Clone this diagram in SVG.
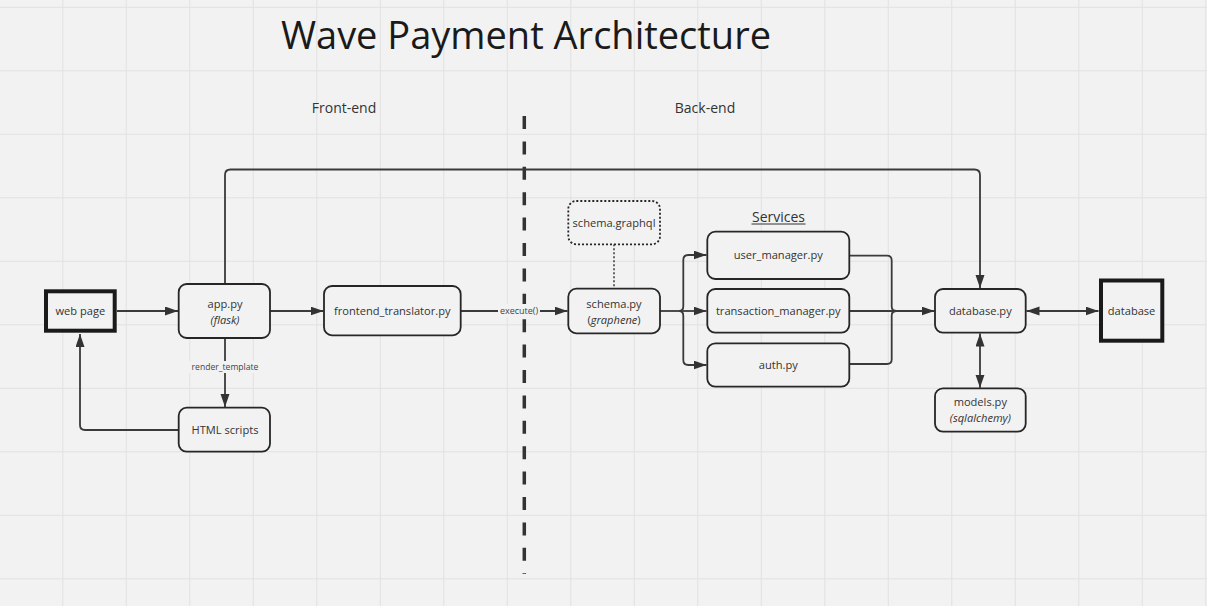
<svg xmlns="http://www.w3.org/2000/svg" width="1207" height="606" viewBox="0 0 1207 606">
<style>
text{font-family:"Open Sans","Noto Sans","Liberation Sans",sans-serif;fill:#333}
.node{fill:#f2f2f2;stroke:#262626;stroke-width:1.8}
.thick{fill:#f2f2f2;stroke:#1a1a1a;stroke-width:4}
.dotted{fill:#f2f2f2;stroke:#262626;stroke-width:1.8;stroke-dasharray:2 2}
.lbl{font-size:11.1px;text-anchor:middle}
.it{font-style:italic}
.conn{fill:none;stroke:#3a3a3a;stroke-width:1.8}
.small{font-size:8.6px;text-anchor:middle;fill:#444}
.grid{fill:none;stroke:#e1e1e1;stroke-width:1}
</style>
<defs>
<marker id="arr" markerUnits="userSpaceOnUse" markerWidth="14" markerHeight="10" refX="13" refY="4.5" orient="auto-start-reverse">
<path d="M0,0 L13,4.5 L0,9 z" fill="#333"/>
</marker>
</defs>
<rect x="0" y="0" width="1207" height="606" fill="#f2f2f2"/>
<path class="grid" d="M62.8,0V606M126.3,0V606M189.8,0V606M253.3,0V606M316.8,0V606M380.3,0V606M443.8,0V606M507.3,0V606M570.8,0V606M634.3,0V606M697.8,0V606M761.3,0V606M824.8,0V606M888.3,0V606M951.8,0V606M1015.3,0V606M1078.8,0V606M1142.3,0V606M1205.8,0V606M0,7.3H1207M0,70.8H1207M0,134.3H1207M0,197.8H1207M0,261.3H1207M0,324.8H1207M0,388.3H1207M0,451.8H1207M0,515.3H1207M0,578.8H1207"/>

<g id="title">
<text x="526" y="48.5" font-size="38" text-anchor="middle" style="fill:#1a1a1a">Wave Payment Architecture</text>
</g>
<g id="section-labels">
<text x="344" y="112.5" font-size="14" text-anchor="middle">Front-end</text>
<text x="705" y="112.5" font-size="14" text-anchor="middle">Back-end</text>
</g>

<g id="divider">
<line x1="524.3" y1="116" x2="524.3" y2="574" stroke="#333" stroke-width="3.5" stroke-dasharray="13 12.4"/>
</g>

<g id="connectors">
<path class="conn" d="M117,311H178" marker-end="url(#arr)"/>
<path class="conn" d="M270,311H323.5" marker-end="url(#arr)"/>
<path class="conn" d="M225,338V407" marker-end="url(#arr)"/>
<rect x="186" y="361" width="78" height="12" fill="#f2f2f2"/>
<text class="small" x="225" y="370.3">render_template</text>
<path class="conn" d="M178.7,430H85Q80,430 80,425V334" marker-end="url(#arr)"/>
<path class="conn" d="M225,284V175Q225,169.5 230.5,169.5H974.5Q980,169.5 980,175V288" marker-end="url(#arr)"/>
<path class="conn" d="M460.7,311H567.5" marker-end="url(#arr)"/>
<rect x="498" y="304" width="42" height="13" fill="#f2f2f2"/>
<text class="small" x="519" y="314" style="font-size:9px">execute()</text>
<path class="conn" d="M614,244.3V288.7" style="stroke-dasharray:2 2;stroke-width:1.5"/>
<path class="conn" d="M660,311H679.3"/>
<path class="conn" d="M679.3,311Q683.3,311 683.3,306V260Q683.3,255 688.3,255H706.5" marker-end="url(#arr)"/>
<path class="conn" d="M679.3,311H706.5" marker-end="url(#arr)"/>
<path class="conn" d="M679.3,311Q683.3,311 683.3,316V360Q683.3,365 688.3,365H706.5" marker-end="url(#arr)"/>
<path class="conn" d="M849.3,255.7H887Q891.7,255.7 891.7,260.5V306.5Q891.7,311 896.7,311Q891.7,311 891.7,315.5V359.5Q891.7,364 887,364H849.3"/>
<path class="conn" d="M849.3,311H934.5" marker-end="url(#arr)"/>
<path class="conn" d="M1026.5,311H1098.5" marker-start="url(#arr)" marker-end="url(#arr)"/>
<path class="conn" d="M980,333.5V387.8" marker-start="url(#arr)" marker-end="url(#arr)"/>
</g>

<g id="web-page">
<rect class="thick" x="46" y="291.3" width="68.7" height="39.4"/>
<text class="lbl" x="80.3" y="315">web page</text>
</g>
<g id="app-py">
<rect class="node" x="178.7" y="284" width="91.3" height="54" rx="8"/>
<text class="lbl" x="225" y="307.5">app.py</text>
<text class="lbl it" x="225" y="324">(flask)</text>
</g>
<g id="html-scripts">
<rect class="node" x="178.7" y="407.7" width="91.3" height="44" rx="8"/>
<text class="lbl" x="225" y="434">HTML scripts</text>
</g>
<g id="frontend-translator">
<rect class="node" x="324" y="286" width="136.7" height="49.3" rx="8"/>
<text class="lbl" x="392.3" y="315">frontend_translator.py</text>
</g>
<g id="schema-graphql">
<rect class="dotted" x="568.3" y="201" width="91.7" height="43.3" rx="8"/>
<text class="lbl" x="614" y="227.3">schema.graphql</text>
</g>
<g id="schema-py">
<rect class="node" x="568.3" y="288.7" width="91.7" height="44.6" rx="8"/>
<text class="lbl" x="614" y="307.5">schema.py</text>
<text class="lbl" x="614" y="323.5">(<tspan class="it">graphene</tspan>)</text>
</g>
<g id="services-label">
<text x="778.5" y="221.5" font-size="14" text-anchor="middle">Services</text>
<line x1="751.5" y1="224" x2="805.5" y2="224" stroke="#333" stroke-width="1"/>
</g>
<g id="user-manager">
<rect class="node" x="707.3" y="231.7" width="142" height="47.3" rx="8"/>
<text class="lbl" x="778.3" y="259.3">user_manager.py</text>
</g>
<g id="transaction-manager">
<rect class="node" x="707.3" y="289" width="142" height="43.7" rx="8"/>
<text class="lbl" x="778.3" y="315">transaction_manager.py</text>
</g>
<g id="auth">
<rect class="node" x="707.3" y="343.3" width="142" height="43.4" rx="8"/>
<text class="lbl" x="778.3" y="369">auth.py</text>
</g>
<g id="database-py">
<rect class="node" x="935" y="289" width="90.7" height="43.7" rx="8"/>
<text class="lbl" x="980.3" y="315">database.py</text>
</g>
<g id="models-py">
<rect class="node" x="935" y="388.3" width="90.7" height="43.4" rx="8"/>
<text class="lbl" x="980.3" y="406.3">models.py</text>
<text class="lbl it" x="980.3" y="421.8">(sqlalchemy)</text>
</g>
<g id="database">
<rect class="thick" x="1101" y="280.5" width="61.3" height="60.2"/>
<text class="lbl" x="1131.6" y="315">database</text>
</g>
</svg>
